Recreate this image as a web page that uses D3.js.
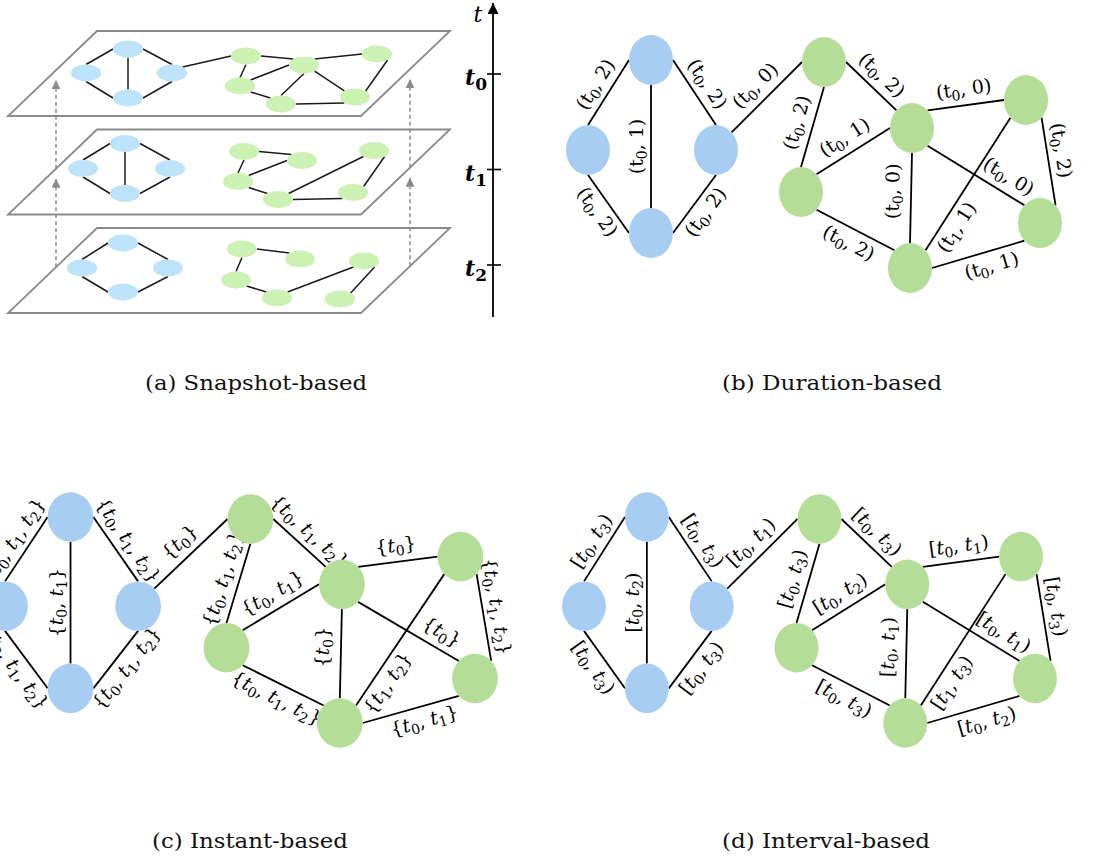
<!DOCTYPE html>
<html><head><meta charset="utf-8">
<script src="https://cdn.jsdelivr.net/npm/d3@7"></script>
<style>html,body{margin:0;padding:0;background:#fff;} svg{display:block;} text{white-space:pre;}</style>
</head><body>
<svg id="chart" width="1102" height="860"></svg>
<script>
// ================= DATA =================
const timeTicks = ["0", "1", "2"];                       // snapshots t0, t1, t2
const nodeIds    = ["a", "b", "c", "d", "g1", "g2", "g3", "g4", "g5", "g6"];
const nodeGroups = ["blue", "blue", "blue", "blue", "green", "green", "green", "green", "green", "green"];
// edges (source -> target)
const edgeSource = ["b", "b", "a", "a", "d", "c",  "g1", "g4", "g4", "g2", "g3", "g2", "g2", "g5", "g4", "g5"];
const edgeTarget = ["a", "d", "d", "c", "c", "g1", "g2", "g1", "g2", "g3", "g6", "g6", "g5", "g3", "g5", "g6"];
// (b) duration-based labels (t_start, duration)
const durStart = ["0","0","0","0","0","0","0","0","0","0","0","0","0","1","0","0"];
const durLen   = ["2","2","1","2","2","0","2","2","1","0","2","0","0","1","2","1"];
// (c) instant-based labels {t_i ...}
const instants = [["0","1","2"],["0","1","2"],["0","1"],["0","1","2"],["0","1","2"],["0"],["0","1","2"],["0","1","2"],
                  ["0","1"],["0"],["0","1","2"],["0"],["0"],["1","2"],["0","1","2"],["0","1"]];
// (d) interval-based labels [t_start, t_end)
const intStart = ["0","0","0","0","0","0","0","0","0","0","0","0","0","1","0","0"];
const intEnd   = ["3","3","2","3","3","1","3","3","2","1","3","1","1","3","3","2"];
const captions = ["(a) Snapshot-based", "(b) Duration-based", "(c) Instant-based", "(d) Interval-based"];

// ================= LAYOUT (positions / styles) =================
const colors = {
  a: {blue: "#bde3fb", green: "#ccf2b3"},
  n: {blue: "#a8cdf3", green: "#b4de97"}
};
// edge attachment points on the node ellipses
const srcAnchor = ["N","S","S","E","E","NE","E","N","NE","NE","SE","SE","S","NE","SE","E"];
const tgtAnchor = ["W","W","N","N","S","W","NW","S","W","W","NE","NW","N","SW","NW","SW"];
// label placement: side (+1 above text line, -1 below), position along edge, distance
const lblSide = [1,-1,1,1,-1,1,1,1,1,1,1,1,1,-1,-1,-1];
const lblT    = [.5,.5,.5,.5,.5,.5,.5,.5,.5,.5,.4,.75,.43,.23,.5,.6];
const lblOff  = [14,15,13,14,15,15,14,15,15,15,13,15,17,15,16,16];

// base layout of the static graph (panels b, c, d)
const baseX = [651, 588, 716, 651, 824, 912, 1026, 801, 910, 1040];
const baseY = [60, 150, 150, 233, 62, 128, 100, 192, 268, 223];
// layouts inside each snapshot plane (relative to plane top)
const planeX = [
  [128, 86, 172, 128, 246, 304, 377, 240, 281, 355],
  [125, 83, 170, 125, 244, 302, 374, 238, 278, 353],
  [123, 82, 168, 123, 242, 300, 364, 236, 277, 340]
];
const planeYrel = [
  [18, 42, 42, 67, 25, 34, 23, 55, 73, 66],
  [14, 39, 39, 64, 22, 31, 21, 52, 70, 63],
  [15, 40, 40, 64, 21, 31, 33, 52, 70, 71]
];

const anchorDeg = {E: 0, NE: -45, N: -90, NW: -135, W: 180, SW: 135, S: 90, SE: 45};
function anchorPt(p, name) {
  const r = anchorDeg[name] * Math.PI / 180;
  return [p.x + p.rx * Math.cos(r), p.y + p.ry * Math.sin(r)];
}

const svg = d3.select("#chart");
svg.append("rect").attr("width", 1102).attr("height", 860).attr("fill", "#fff");
const defs = svg.append("defs");
function marker(id, color, size) {
  defs.append("marker").attr("id", id).attr("viewBox", "0 0 10 10")
    .attr("refX", 10).attr("refY", 5).attr("markerWidth", size).attr("markerHeight", size)
    .attr("markerUnits", "userSpaceOnUse").attr("orient", "auto")
    .append("path").attr("d", "M0,0L10,5L0,10Z").attr("fill", color);
}
marker("arrGray", "#8a8a8a", 9);
marker("arrBlack", "#000", 11);

// ================= PANEL (a) =================
const gA = svg.append("g");
const planeTop = d3.scalePoint().domain(timeTicks).range([31, 228]);
const PL = {x0: 97, skew: 89, w: 353, h: 85};
timeTicks.forEach(tk => {
  const y0 = planeTop(tk);
  const pts = [[PL.x0, y0], [PL.x0 + PL.w, y0], [PL.x0 + PL.w - PL.skew, y0 + PL.h], [PL.x0 - PL.skew, y0 + PL.h]];
  gA.append("path").attr("d", d3.line()(pts) + "Z")
    .attr("fill", "none").attr("stroke", "#8a8a8a").attr("stroke-width", 1.8);
});
// dashed arrows between planes
const leftEdgeY = (tk, x) => planeTop(tk) + (PL.x0 - x) / PL.skew * PL.h;
const rightEdgeY = (tk, x) => planeTop(tk) + (PL.x0 + PL.w - x) / PL.skew * PL.h;
[[56, leftEdgeY], [410, rightEdgeY]].forEach(([x, fy]) => {
  for (let i = timeTicks.length - 1; i > 0; i--) {
    gA.append("line").attr("x1", x).attr("x2", x)
      .attr("y1", fy(timeTicks[i], x)).attr("y2", fy(timeTicks[i - 1], x) + 10)
      .attr("stroke", "#8a8a8a").attr("stroke-width", 1.5).attr("stroke-dasharray", "4,3")
      .attr("marker-end", "url(#arrGray)");
  }
});
// snapshot graphs
timeTicks.forEach((tk, pi) => {
  const y0 = planeTop(tk);
  const pos = {};
  nodeIds.forEach((id, k) => pos[id] = {x: planeX[pi][k], y: y0 + planeYrel[pi][k], rx: 15, ry: 8.5});
  edgeSource.forEach((s, e) => {
    if (!instants[e].includes(tk)) return;
    const A = anchorPt(pos[s], srcAnchor[e]), B = anchorPt(pos[edgeTarget[e]], tgtAnchor[e]);
    gA.append("line").attr("x1", A[0]).attr("y1", A[1]).attr("x2", B[0]).attr("y2", B[1])
      .attr("stroke", "#1a1a1a").attr("stroke-width", 1.5);
  });
  nodeIds.forEach((id, k) => {
    gA.append("ellipse").attr("cx", pos[id].x).attr("cy", pos[id].y)
      .attr("rx", pos[id].rx).attr("ry", pos[id].ry).attr("fill", colors.a[nodeGroups[k]]);
  });
});
// time axis
const tAxisY = d3.scalePoint().domain(timeTicks).range([74, 265]);
const axX = 493;
gA.append("line").attr("x1", axX).attr("x2", axX).attr("y1", 317).attr("y2", 3)
  .attr("stroke", "#000").attr("stroke-width", 1.8).attr("marker-end", "url(#arrBlack)");
gA.append("text").attr("x", 478).attr("y", 22).attr("text-anchor", "middle")
  .attr("font-family", "DejaVu Serif").attr("font-style", "italic").attr("font-size", 22).text("t");
timeTicks.forEach(tk => {
  const y = tAxisY(tk);
  gA.append("line").attr("x1", axX - 6).attr("x2", axX + 8).attr("y1", y).attr("y2", y)
    .attr("stroke", "#000").attr("stroke-width", 1.6);
  const t = gA.append("text").attr("x", axX - 6).attr("y", y + 11).attr("text-anchor", "end")
    .attr("font-family", "DejaVu Serif").attr("font-weight", "bold").attr("font-style", "italic");
  t.append("tspan").attr("font-size", 22).text("t");
  t.append("tspan").attr("font-size", 17).attr("dy", 5).attr("font-style", "normal").text(tk);
});

// ================= PANELS (b), (c), (d) =================
function durParts(i) { return [{s: "("}, {s: "t"}, {s: durStart[i], sub: true}, {s: ", " + durLen[i] + ")"}]; }
function instParts(i) {
  const p = [{s: "{"}];
  instants[i].forEach((k, j) => { if (j) p.push({s: ", "}); p.push({s: "t", it: true}); p.push({s: k, sub: true}); });
  p.push({s: "}"});
  return p;
}
function intParts(i) {
  return [{s: "["}, {s: "t", it: true}, {s: intStart[i], sub: true}, {s: ", "}, {s: "t", it: true}, {s: intEnd[i], sub: true}, {s: ")"}];
}

function drawGraph(xRange, yRange, partsFn) {
  const g = svg.append("g");
  const xs = d3.scaleLinear().domain(d3.extent(baseX)).range(xRange);
  const ys = d3.scaleLinear().domain(d3.extent(baseY)).range(yRange);
  const kx = (xRange[1] - xRange[0]) / (d3.max(baseX) - d3.min(baseX));
  const ky = (yRange[1] - yRange[0]) / (d3.max(baseY) - d3.min(baseY));
  const pos = {};
  nodeIds.forEach((id, k) => pos[id] = {x: xs(baseX[k]), y: ys(baseY[k]), rx: 22 * kx, ry: 25 * ky});
  edgeSource.forEach((s, e) => {
    const A = anchorPt(pos[s], srcAnchor[e]), B = anchorPt(pos[edgeTarget[e]], tgtAnchor[e]);
    g.append("line").attr("x1", A[0]).attr("y1", A[1]).attr("x2", B[0]).attr("y2", B[1])
      .attr("stroke", "#000").attr("stroke-width", 1.8);
    // label
    const dx = B[0] - A[0], dy = B[1] - A[1];
    let ang = Math.atan2(dy, dx) * 180 / Math.PI;
    if (ang >= 90) ang -= 180;
    if (ang < -90) ang += 180;
    const r = ang * Math.PI / 180;
    const nx = Math.sin(r), ny = -Math.cos(r);
    const px = A[0] + lblT[e] * dx + lblSide[e] * lblOff[e] * nx;
    const py = A[1] + lblT[e] * dy + lblSide[e] * lblOff[e] * ny;
    const txt = g.append("text").attr("transform", `translate(${px},${py}) rotate(${ang})`)
      .attr("text-anchor", "middle").attr("y", 5)
      .attr("font-family", "DejaVu Serif").attr("font-size", 19).attr("fill", "#000");
    let inSub = false;
    partsFn(e).forEach(p => {
      const ts = txt.append("tspan").text(p.s);
      if (p.sub) { ts.attr("font-size", 14).attr("dy", 4); inSub = true; }
      else if (inSub) { ts.attr("dy", -4); inSub = false; }
      if (p.it) ts.attr("font-style", "italic");
    });
  });
  nodeIds.forEach((id, k) => {
    g.append("ellipse").attr("cx", pos[id].x).attr("cy", pos[id].y)
      .attr("rx", pos[id].rx).attr("ry", pos[id].ry).attr("fill", colors.n[nodeGroups[k]]);
  });
}
drawGraph([588, 1040], [60, 268], durParts);
drawGraph([5, 475], [517, 723], instParts);
drawGraph([584, 1035], [517, 723], intParts);

// ================= CAPTIONS =================
const capX = [256, 832, 250, 826];
const capY = [390, 390, 848, 848];
const capW = [222, 220, 196, 208];
captions.forEach((c, i) => {
  svg.append("text").attr("x", capX[i]).attr("y", capY[i]).attr("text-anchor", "middle")
    .attr("font-family", "DejaVu Serif").attr("font-size", 20.5)
    .attr("textLength", capW[i]).attr("lengthAdjust", "spacingAndGlyphs")
    .attr("fill", "#111").text(c);
});
</script>
</body></html>
